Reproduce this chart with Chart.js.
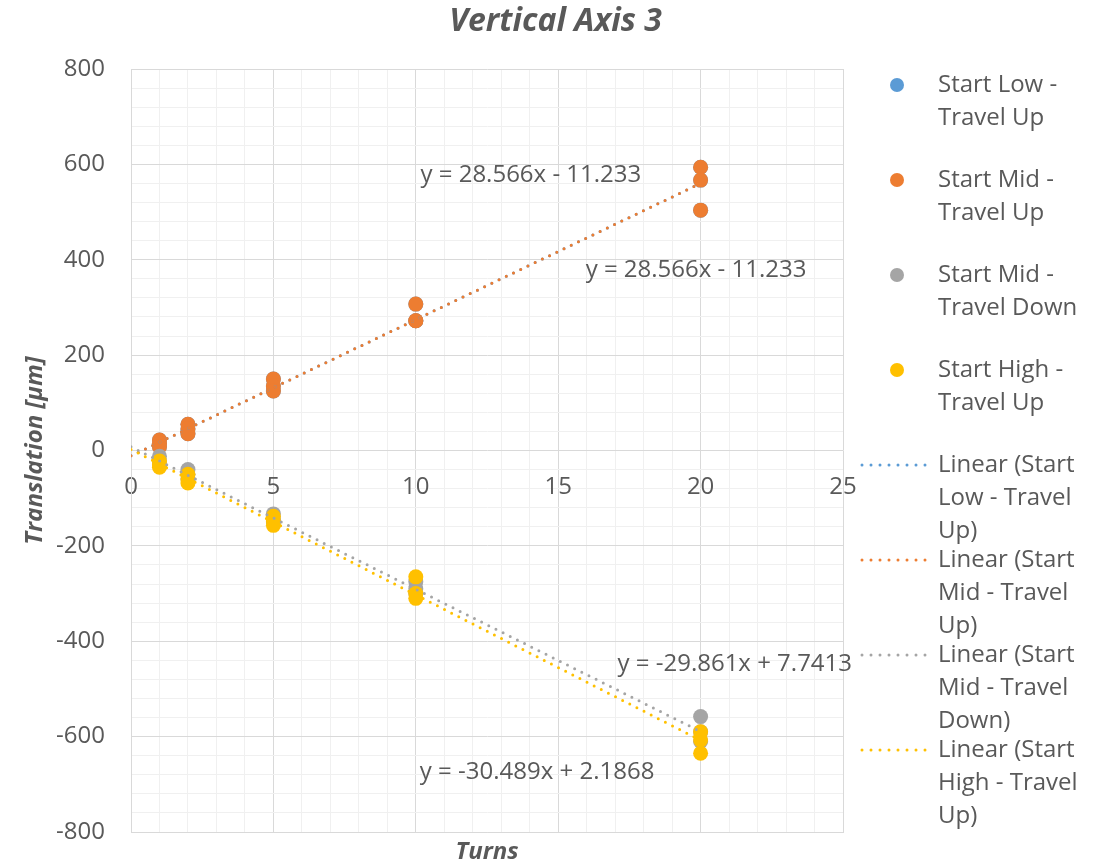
<!DOCTYPE html>
<html>
<head>
<meta charset="utf-8">
<style>
  html, body { margin: 0; padding: 0; background: #fff; }
  #wrap { width: 1111px; height: 867px; }
</style>
<script src="https://cdn.jsdelivr.net/npm/chart.js@4.4.0/dist/chart.umd.min.js"></script>
</head>
<body>
<div id="wrap"><canvas id="chart" width="1111" height="867"></canvas></div>
<script>
const chartTitle = "Vertical Axis 3";
const xTitle = "Turns";
const yTitle = "Translation [µm]";

// turns for every measurement, three runs per setting
const turns = [1, 1, 1, 2, 2, 2, 5, 5, 5, 10, 10, 10, 20, 20, 20];
const startLowUp = [22, 15, 8, 55, 45, 35, 150, 135, 125, 307, 272, 272, 594, 567, 504];
const startMidUp = [22, 15, 8, 55, 45, 35, 150, 135, 125, 307, 272, 272, 594, 567, 504];
const startMidDown = [-12, -22, -30, -40, -50, -60, -133, -145, -150, -275, -290, -300, -558, -590, -610];
const startHighUp = [-22, -30, -35, -50, -60, -68, -138, -148, -157, -265, -300, -310, -590, -607, -635];

const seriesNames = ["Start Low - Travel Up", "Start Mid - Travel Up", "Start Mid - Travel Down", "Start High - Travel Up"];
const seriesValues = [startLowUp, startMidUp, startMidDown, startHighUp];
const seriesColors = ["#5B9BD5", "#ED7D31", "#A5A5A5", "#FFC000"];

// trendline equations as printed on the chart
const trendSlopes = [28.566, 28.566, -29.861, -30.489];
const trendIntercepts = [-11.233, -11.233, 7.7413, 2.1868];
const trendRange = [0, 20];

const xTicks = { min: 0, max: 25, major: 5, minor: 1 };
const yTicks = { min: -800, max: 800, major: 200, minor: 40 };

// where the equation labels sit (data units)
const eqLabelPos = [[19.84, 379], [14.04, 578], [21.2, -449], [14.26, -675]];

const textColor = "#595959";
const majorGrid = "#d9d9d9";
const minorGrid = "#f0f0f0";
const fontFamily = "'Open Sans', sans-serif";

Chart.defaults.font.family = fontFamily;
Chart.defaults.color = textColor;

function wrapText(ctx, text, maxW) {
  const words = text.split(" ");
  const lines = [];
  let cur = "";
  words.forEach((w) => {
    const test = cur ? cur + " " + w : w;
    if (cur && ctx.measureText(test).width > maxW) {
      lines.push(cur);
      cur = w;
    } else {
      cur = test;
    }
  });
  if (cur) lines.push(cur);
  return lines;
}

function eqText(m, b) {
  return "y = " + m + "x " + (b < 0 ? "- " : "+ ") + Math.abs(b);
}

const datasets = [];
seriesNames.forEach((name, i) => {
  datasets.push({
    type: "scatter",
    label: name,
    data: turns.map((t, k) => ({ x: t, y: seriesValues[i][k] })),
    backgroundColor: seriesColors[i],
    borderColor: seriesColors[i],
    pointRadius: 7.5,
    pointHoverRadius: 7.5,
    pointBorderWidth: 0,
    order: 8 - i,
  });
});
seriesNames.forEach((name, i) => {
  datasets.push({
    type: "line",
    label: "Linear (" + name + ")",
    data: trendRange.map((x) => ({ x: x, y: trendSlopes[i] * x + trendIntercepts[i] })),
    borderColor: seriesColors[i],
    borderWidth: 3,
    borderDash: [0, 8],
    borderCapStyle: "round",
    pointRadius: 0,
    fill: false,
    order: 4 - i,
  });
});

const extras = {
  id: "extras",
  afterDraw(chart) {
    const ctx = chart.ctx;
    const xs = chart.scales.x, ys = chart.scales.y;
    ctx.save();

    // title
    ctx.fillStyle = textColor;
    ctx.textAlign = "center";
    ctx.textBaseline = "middle";
    ctx.font = "italic bold 32px " + fontFamily;
    ctx.fillText(chartTitle, chart.width / 2, 22);

    // trendline equations
    ctx.font = "24px " + fontFamily;
    eqLabelPos.forEach((p, i) => {
      ctx.fillText(eqText(trendSlopes[i], trendIntercepts[i]), xs.getPixelForValue(p[0]), ys.getPixelForValue(p[1]));
    });

    // legend on the right
    ctx.textAlign = "left";
    const items = [];
    seriesNames.forEach((n, i) => items.push({ kind: "point", color: seriesColors[i], text: n }));
    seriesNames.forEach((n, i) => items.push({ kind: "line", color: seriesColors[i], text: "Linear (" + n + ")" }));
    let y = 85;
    items.forEach((it) => {
      if (it.kind === "point") {
        ctx.fillStyle = it.color;
        ctx.beginPath();
        ctx.arc(897, y, 7, 0, Math.PI * 2);
        ctx.fill();
      } else {
        ctx.strokeStyle = it.color;
        ctx.lineWidth = 3;
        ctx.lineCap = "round";
        ctx.setLineDash([0, 9]);
        ctx.beginPath();
        ctx.moveTo(862, y);
        ctx.lineTo(926, y);
        ctx.stroke();
        ctx.setLineDash([]);
      }
      ctx.fillStyle = textColor;
      const lines = wrapText(ctx, it.text, 155);
      lines.forEach((l, k) => ctx.fillText(l, 938, y + k * 33));
      y += 95;
    });
    ctx.restore();
  },
};

const gridColor = (step) => (c) => (c.tick && Math.round(c.tick.value) % step === 0 ? majorGrid : minorGrid);

new Chart(document.getElementById("chart"), {
  type: "scatter",
  data: { datasets: datasets },
  options: {
    responsive: false,
    devicePixelRatio: 1,
    animation: false,
    layout: { padding: { top: 69, right: 268, left: 0, bottom: 0 } },
    plugins: {
      legend: { display: false },
      title: { display: false },
      tooltip: { enabled: false },
    },
    scales: {
      x: {
        type: "linear",
        position: "bottom",
        min: xTicks.min,
        max: xTicks.max,
        ticks: { display: false, stepSize: xTicks.minor, autoSkip: false },
        grid: { color: gridColor(xTicks.major), drawTicks: false },
        border: { color: majorGrid },
        title: {
          display: true,
          text: xTitle,
          color: textColor,
          font: { size: 24, weight: "bold", style: "italic" },
          padding: { top: 0, bottom: 0 },
        },
        afterFit: (s) => { s.height = 35; },
      },
      x2: {
        type: "linear",
        position: { y: 0 },
        min: xTicks.min,
        max: xTicks.max,
        ticks: { stepSize: xTicks.major, color: textColor, font: { size: 24 }, padding: 14 },
        grid: { display: false },
        border: { display: false },
        afterFit: (s) => { s.height = 0; },
      },
      y: {
        type: "linear",
        min: yTicks.min,
        max: yTicks.max,
        ticks: {
          stepSize: yTicks.minor,
          autoSkip: false,
          color: textColor,
          font: { size: 24 },
          padding: 6,
          callback: (v) => (Math.round(v) % yTicks.major === 0 ? v : ""),
        },
        grid: { color: gridColor(yTicks.major), drawTicks: true, tickLength: 20, tickColor: "rgba(0,0,0,0)" },
        border: { color: majorGrid },
        title: {
          display: true,
          text: yTitle,
          color: textColor,
          font: { size: 24, weight: "bold", style: "italic" },
          padding: { top: 21, bottom: 0 },
        },
        afterFit: (s) => { s.width = 131; },
      },
    },
  },
  plugins: [extras],
});
</script>
</body>
</html>
